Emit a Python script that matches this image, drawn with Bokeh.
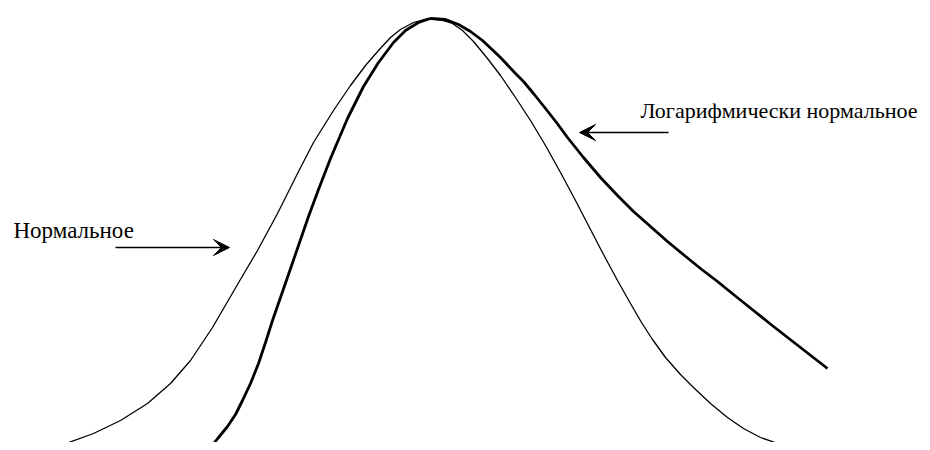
from bokeh.plotting import figure
from bokeh.models import Range1d, Label, Arrow, VeeHead
from bokeh.embed import file_html
from bokeh.resources import INLINE

# Curves: horizontal position and height above the baseline
normal_x = [40, 45, 60, 93, 120, 147, 170, 190, 212, 237, 257, 277, 297, 313, 333, 350,
            365, 378, 390, 400, 413, 427, 440, 452, 462, 473, 487, 500, 515, 530, 545,
            560, 575, 590, 603, 617, 630, 641, 652, 665, 680, 693, 710, 727, 743, 760,
            780, 803, 815]
normal_y = [453, 450, 445, 433, 420, 403, 383, 360, 327, 284, 250, 213, 173, 142, 110, 85,
            65, 50, 37, 29, 22, 18, 19.5, 23, 30, 41, 58, 75, 97, 120, 145,
            172, 200, 229, 254, 280, 303, 322, 339, 357, 374, 387, 403, 417, 428, 437,
            444, 449, 452]
normal_h = [450 - v for v in normal_y]

lognormal_x = [205, 210, 218, 227, 235, 242, 250, 258, 265, 272, 280, 288, 298, 308, 318,
               330, 347, 363, 378, 393, 405, 418, 430, 445, 458, 470, 482, 500, 515, 523,
               533, 545, 556, 567, 583, 600, 617, 633, 650, 667, 684, 700, 717, 733, 753,
               773, 800, 827]
lognormal_y = [455, 447, 437, 426, 414, 400, 383, 363, 342, 320, 297, 274, 245, 216, 189,
               158, 118, 86, 62, 42, 30, 22, 18, 19, 24, 31, 40, 57, 73, 81,
               93, 108, 122, 137, 157, 177, 195, 211, 226, 241, 255, 268, 281, 294, 310,
               326, 347, 368]
lognormal_h = [450 - v for v in lognormal_y]

label_normal = "Нормальное"
label_lognormal = "Логарифмически нормальное"

p = figure(width=922, height=442, output_backend="svg", toolbar_location=None,
           x_range=Range1d(0, 922), y_range=Range1d(8, 450), min_border=0)
p.axis.visible = False
p.grid.visible = False
p.outline_line_color = None
p.background_fill_color = "white"

p.line(normal_x, normal_h, line_color="black", line_width=1.3)
p.line(lognormal_x, lognormal_h, line_color="black", line_width=2.8)

font = "Liberation Serif"
p.add_layout(Label(x=13, y=450 - 230, text=label_normal, text_font=font,
                   text_font_size="23px", text_color="black", text_baseline="alphabetic"))
p.add_layout(Label(x=640, y=450 - 110, text=label_lognormal, text_font=font,
                   text_font_size="22px", text_color="black", text_baseline="alphabetic"))

p.add_layout(Arrow(x_start=115, y_start=450 - 247, x_end=229, y_end=450 - 247,
                   line_color="black", line_width=1.3,
                   end=VeeHead(size=16, fill_color="black", line_color="black", line_width=1)))
p.add_layout(Arrow(x_start=668, y_start=450 - 132, x_end=579, y_end=450 - 132,
                   line_color="black", line_width=1.3,
                   end=VeeHead(size=16, fill_color="black", line_color="black", line_width=1)))

open("out.html", "w").write(file_html(p, INLINE))
